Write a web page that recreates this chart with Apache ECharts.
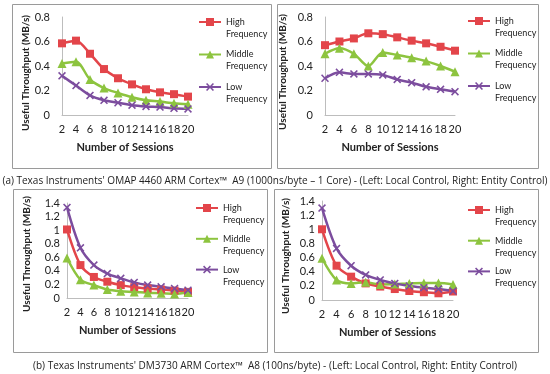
<!DOCTYPE html>
<html><head><meta charset="utf-8">
<script src="https://cdn.jsdelivr.net/npm/echarts@6/dist/echarts.min.js"></script>
<style>html,body{margin:0;padding:0;background:#fff}#c{width:550px;height:374px}</style>
</head><body><div id="c"></div>
<script>
const categories = ['2','4','6','8','10','12','14','16','18','20'];
const seriesNames = ['High Frequency','Middle Frequency','Low Frequency'];
const yTicksTop = ['0','0.2','0.4','0.6','0.8'];
const yTicksBottom = ['0','0.2','0.4','0.6','0.8','1','1.2','1.4'];
const captionA = "(a) Texas Instruments' OMAP 4460 ARM Cortex\u2122  A9 (1000ns/byte \u2013 1 Core) - (Left: Local Control, Right: Entity Control)";
const captionB = "(b) Texas Instruments' DM3730 ARM Cortex\u2122  A8 (100ns/byte) - (Left: Local Control, Right: Entity Control)";
// (a) left: local control
const aLocalHigh   = [0.585,0.607,0.50,0.375,0.30,0.25,0.21,0.185,0.17,0.15];
const aLocalMiddle = [0.42,0.435,0.29,0.22,0.18,0.145,0.12,0.11,0.095,0.087];
const aLocalLow    = [0.32,0.24,0.16,0.12,0.10,0.08,0.07,0.065,0.055,0.05];
// (a) right: entity control
const aEntityHigh   = [0.57,0.60,0.625,0.667,0.66,0.634,0.607,0.585,0.557,0.525];
const aEntityMiddle = [0.50,0.544,0.50,0.40,0.51,0.49,0.468,0.44,0.40,0.353];
const aEntityLow    = [0.30,0.348,0.335,0.335,0.327,0.29,0.264,0.23,0.21,0.19];
// (b) left: local control
const bLocalHigh   = [1.01,0.485,0.31,0.24,0.19,0.16,0.14,0.125,0.11,0.09];
const bLocalMiddle = [0.59,0.27,0.19,0.125,0.10,0.09,0.075,0.07,0.06,0.08];
const bLocalLow    = [1.335,0.74,0.485,0.36,0.29,0.23,0.19,0.165,0.14,0.115];
// (b) right: entity control
const bEntityHigh   = [1.0,0.485,0.33,0.235,0.19,0.155,0.127,0.11,0.095,0.12];
const bEntityMiddle = [0.59,0.283,0.235,0.25,0.22,0.225,0.235,0.24,0.24,0.22];
const bEntityLow    = [1.30,0.73,0.485,0.354,0.283,0.235,0.198,0.175,0.155,0.127];

const colors = ['#E3454A','#8DC43F','#7C4D9E'];
const xSym = 'path://M0,1.4L1.4,0L5,3.6L8.6,0L10,1.4L6.4,5L10,8.6L8.6,10L5,6.4L1.4,10L0,8.6L3.6,5Z';
const symbols = ['rect','triangle',xSym];
const FONT = 'Lato';

const panels = [
  {grid:{left:62,top:17,width:126,height:98}, max:0.8, ticks:yTicksTop, data:[aLocalHigh,aLocalMiddle,aLocalLow], nameGapY:30, nameShift:14, labelMarginY:12, legend:{left:198,top:4,gap:-3.5}, rect:[12,4,259,164]},
  {grid:{left:325,top:17,width:130,height:98}, max:0.8, ticks:yTicksTop, data:[aEntityHigh,aEntityMiddle,aEntityLow], nameGapY:37, nameShift:12, labelMarginY:12, legend:{left:467,top:3,gap:-3.5}, rect:[277,4,261,164]},
  {grid:{left:67,top:203,width:121,height:95}, max:1.4, ticks:yTicksBottom, data:[bLocalHigh,bLocalMiddle,bLocalLow], nameGapY:35, nameShift:7, labelMarginY:7, legend:{left:195,top:190,gap:-5.2}, rect:[13,189,254,163]},
  {grid:{left:322,top:201,width:131,height:99}, max:1.4, ticks:yTicksBottom, data:[bEntityHigh,bEntityMiddle,bEntityLow], nameGapY:31, nameShift:11, labelMarginY:7, legend:{left:467,top:192,gap:-5.3}, rect:[274,189,264,163]}
];

const option = {
  animation:false,
  backgroundColor:'#fff',
  textStyle:{fontFamily:FONT},
  title:[
    {text:captionA, left:'center', top:171, textStyle:{fontSize:10, fontWeight:'normal', color:'#222', fontFamily:'Open Sans'}},
    {text:captionB, left:'center', top:356, textStyle:{fontSize:10, fontWeight:'normal', color:'#222', fontFamily:'Open Sans'}}
  ],
  grid: panels.map(p=>p.grid),
  xAxis: panels.map((p,i)=>({
    type:'category', gridIndex:i, data:categories, boundaryGap:false,
    axisLine:{lineStyle:{color:'#BDBDBD',width:1}}, axisTick:{show:false},
    axisLabel:{interval:0, fontSize:11, color:'#222', margin:9, fontFamily:FONT},
    name:'Number of Sessions', nameLocation:'middle', nameGap:27,
    nameTextStyle:{fontSize:11, fontWeight:'bold', color:'#222', fontFamily:FONT}
  })),
  yAxis: panels.map((p,i)=>({
    type:'value', gridIndex:i, min:0, max:p.max, interval:0.2,
    axisLine:{show:true, lineStyle:{color:'#BDBDBD',width:1}}, axisTick:{show:false},
    splitLine:{show:false},
    axisLabel:{fontSize:11, color:'#222', margin:p.labelMarginY, fontFamily:FONT,
      formatter:(v)=>{const k=Math.round(v/0.2); return p.ticks[k]!==undefined?p.ticks[k]:'';}},
    name:'Useful Throughput (MB/s)', nameLocation:'middle', nameGap:p.nameGapY,
    nameTextStyle:{fontSize:10, fontWeight:'bold', color:'#222', fontFamily:FONT, padding:[0,p.nameShift,0,0]}
  })),
  legend: panels.map(p=>({
    left:p.legend.left, top:p.legend.top, orient:'vertical', padding:0,
    itemWidth:22, itemHeight:10, itemGap:p.legend.gap, selectedMode:false,
    data:seriesNames,
    formatter:(n)=>'\n'+n.replace(' ','\n'),
    textStyle:{fontSize:9, lineHeight:12, color:'#222', fontFamily:FONT}
  })),
  series: [],
  graphic: panels.map(p=>({type:'rect', shape:{x:p.rect[0]+0.5,y:p.rect[1]+0.5,width:p.rect[2],height:p.rect[3]}, style:{fill:'none',stroke:'#9A9A9A',lineWidth:1}, silent:true}))
};
panels.forEach((p,i)=>{
  p.data.forEach((d,j)=>{
    option.series.push({
      type:'line', name:seriesNames[j], xAxisIndex:i, yAxisIndex:i, data:d,
      smooth:0.3, symbol:symbols[j], symbolSize: j===1?9:8, showSymbol:true,
      lineStyle:{color:colors[j], width:2.5}, itemStyle:{color:colors[j]}
    });
  });
});
const chart = echarts.init(document.getElementById('c'), null, {renderer:'canvas'});
chart.setOption(option);
</script></body></html>
